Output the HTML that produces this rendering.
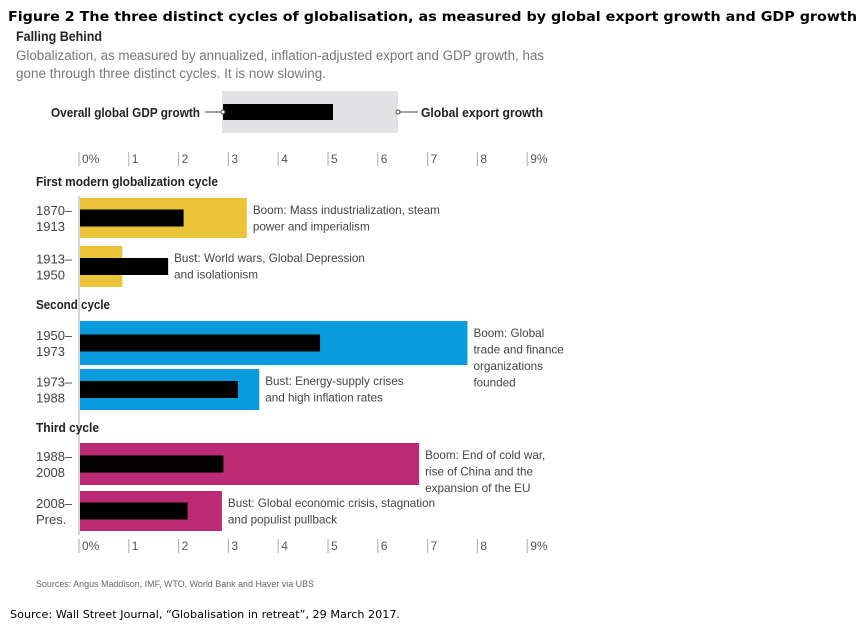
<!DOCTYPE html>
<html><head><meta charset="utf-8"><style>
body{margin:0;width:866px;height:630px;background:#fff;overflow:hidden;}
</style></head><body>
<svg width="866" height="630" font-family="Liberation Sans, sans-serif">
<text x="8" y="21" style="font-family:'DejaVu Sans',sans-serif" font-weight="bold" font-size="13" textLength="849" lengthAdjust="spacingAndGlyphs" fill="#000">Figure 2 The three distinct cycles of globalisation, as measured by global export growth and GDP growth</text>
<text x="16" y="41" font-weight="bold" font-size="14" textLength="86" lengthAdjust="spacingAndGlyphs" fill="#222">Falling Behind</text>
<text x="16" y="60" font-size="13.5" textLength="528" lengthAdjust="spacingAndGlyphs" fill="#777">Globalization, as measured by annualized, inflation-adjusted export and GDP growth, has</text>
<text x="16" y="78" font-size="13.5" textLength="310" lengthAdjust="spacingAndGlyphs" fill="#777">gone through three distinct cycles. It is now slowing.</text>
<g>
<rect x="222" y="91" width="176" height="42" fill="#e2e2e4"/>
<rect x="223" y="104" width="110" height="16" fill="#000"/>
<line x1="205" y1="112" x2="222" y2="112" stroke="#444"/>
<circle cx="223" cy="112" r="2" fill="#fff" stroke="#444"/>
<line x1="400" y1="112" x2="418" y2="112" stroke="#444"/>
<circle cx="398" cy="112" r="2" fill="#fff" stroke="#444"/>
<text x="200" y="117" text-anchor="end" font-weight="bold" font-size="13" textLength="149" lengthAdjust="spacingAndGlyphs" fill="#222">Overall global GDP growth</text>
<text x="421" y="117" font-weight="bold" font-size="13" textLength="122" lengthAdjust="spacingAndGlyphs" fill="#222">Global export growth</text>
</g>
<g id="top-axis"></g><g id="bottom-axis"></g><g id="bars"></g>
<text x="36" y="587" font-size="9" textLength="278" lengthAdjust="spacingAndGlyphs" fill="#666">Sources: Angus Maddison, IMF, WTO, World Bank and Haver via UBS</text>
<text x="10" y="618" style="font-family:'DejaVu Sans',sans-serif" font-size="11" textLength="390" lengthAdjust="spacingAndGlyphs" fill="#000">Source: Wall Street Journal, “Globalisation in retreat”, 29 March 2017.</text>
</svg>
<script>
const periods=["1870-|1913","1913-|1950","1950-|1973","1973-|1988","1988-|2008","2008-|Pres."];
const exportGrowth=[3.37,0.87,7.8,3.62,6.83,2.87];
const gdpGrowth=[2.1,1.79,4.84,3.19,2.9,2.18];
const notes=["Boom: Mass industrialization, steam|power and imperialism","Bust: World wars, Global Depression|and isolationism","Boom: Global|trade and finance|organizations|founded","Bust: Energy-supply crises|and high inflation rates","Boom: End of cold war,|rise of China and the|expansion of the EU","Bust: Global economic crisis, stagnation|and populist pullback"];
const cycleTitles=["First modern globalization cycle","Second cycle","Third cycle"];
const tickLabels=["0%","1","2","3","4","5","6","7","8","9%"];
const colors=["#ebc43a","#ebc43a","#0a9bdc","#0a9bdc","#bb2a75","#bb2a75"];
const NS="http://www.w3.org/2000/svg";
const x=v=>79+v*49.8;
function mk(tag,attrs,parent,txt){const e=document.createElementNS(NS,tag);for(const k in attrs)e.setAttribute(k,attrs[k]);if(txt!==undefined)e.textContent=txt;parent.appendChild(e);return e;}
const bars=document.getElementById('bars');
function axis(g,y){
 tickLabels.forEach((t,i)=>{
  const l=mk('line',{x1:x(i),x2:x(i),y1:y-11,y2:y+3,stroke:'#aaa'},g);
  
  
  const tx=mk('text',{x:x(i)+3,y:y,'font-size':12,fill:'#555'},g,t);
  
  
 });
}
axis(document.getElementById('top-axis'),163);
axis(document.getElementById('bottom-axis'),550);
const al=mk('line',{x1:79,x2:79,y1:196,y2:535,stroke:'#aaa'},bars);


const titleY=[186,309,432];
const titleW=[182,74,63];
cycleTitles.forEach((t,i)=>{
 const e=mk('text',{x:36,y:titleY[i],'font-weight':'bold','font-size':13,textLength:titleW[i],lengthAdjust:'spacingAndGlyphs',fill:'#222'},bars,t);
 
 
});
const rowTop=[198,246,321,369,443,491];
const rowH=[40,41,44,41,42,40];
periods.forEach((p,i)=>{
 const y=rowTop[i],h=rowH[i];
 const r=mk('rect',{x:80,y:y,width:x(exportGrowth[i])-80,height:h,fill:colors[i]},bars);
 
 
 const b=mk('rect',{x:80,y:y+h/2-8.5,width:x(gdpGrowth[i])-80,height:17,fill:'#000'},bars);
 
 
 p.split('|').forEach((s,j)=>{
  const t=mk('text',{x:36,y:y+h/2-3+j*16,'font-size':13,fill:'#444'},bars,s.replace('-','–'));
  
  
 });
 const lx=x(Math.max(exportGrowth[i],gdpGrowth[i]))+6;
 notes[i].split('|').forEach((s,j)=>{
  const t=mk('text',{x:lx,y:y+16+j*16.5,'font-size':11.7,fill:'#444'},bars,s);
  
  
 });
});
</script>
</body></html>
